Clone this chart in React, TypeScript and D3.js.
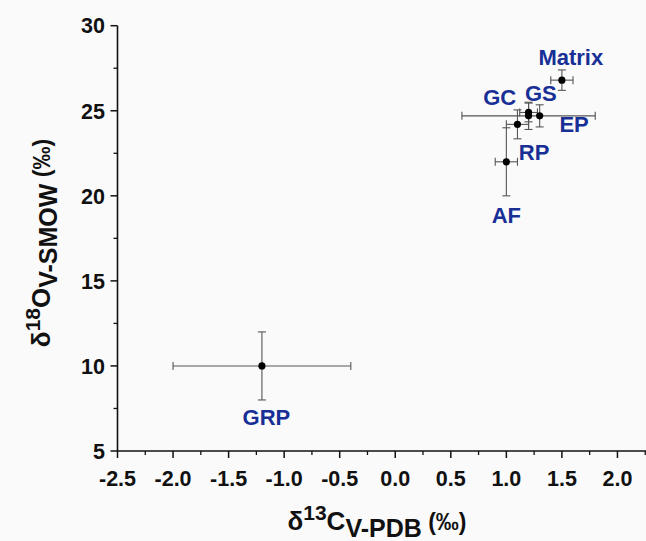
import React from "react";
import * as d3 from "d3";

const names = ["Matrix", "GS", "GC", "EP", "RP", "AF", "GRP"];
const xVals = [1.5, 1.2, 1.2, 1.3, 1.1, 1.0, -1.2];
const yVals = [26.8, 24.9, 24.7, 24.7, 24.2, 22.0, 10.0];
const xErrs = [0.1, 0.08, 0.6, 0, 0.1, 0.1, 0.8];
const yErrs = [0.6, 0.55, 0.8, 0.65, 0.85, 2.0, 2.0];
// label offsets in data units (dx, dy) relative to point
const labelDx = [0.08, 0.11, -0.26, 0.31, 0.15, 0.0, 0.04];
const labelDy = [0.9, 0.66, 0.62, -0.94, -2.1, -3.6, -3.48];

const xMajor = [-2.5, -2.0, -1.5, -1.0, -0.5, 0.0, 0.5, 1.0, 1.5, 2.0];
const yMajor = [5, 10, 15, 20, 25, 30];

const W = 646;
const H = 541;
const FONT = "'Liberation Sans', Arial, Helvetica, sans-serif";
const LABEL_COLOR = "#182f96";

export default function App() {
  const x = d3.scaleLinear().domain([-2.5, 2.5]).range([117.5, 673]);
  const y = d3.scaleLinear().domain([5, 30]).range([451, 25.7]);
  const x0 = x(-2.5);
  const y0 = y(5);

  const xMinor = d3.range(-2.25, 2.5, 0.5);
  const yMinor = d3.range(7.5, 30, 5);
  const cap = 4;

  return (
    <svg
      width={W}
      height={H}
      style={{ position: "absolute", left: 0, top: 0, fontFamily: FONT }}
    >
      <rect x={0} y={0} width={W} height={H} fill="#fafafa" />
      {/* axes */}
      <line x1={x0} x2={W} y1={y0} y2={y0} stroke="#111" strokeWidth={1.6} />
      <line x1={x0} x2={x0} y1={y(30)} y2={y0} stroke="#111" strokeWidth={1.6} />
      {xMajor.map((v) => (
        <g key={"xm" + v}>
          <line x1={x(v)} x2={x(v)} y1={y0} y2={y0 + 7} stroke="#111" strokeWidth={1.5} />
          <text
            x={x(v)}
            y={486}
            textAnchor="middle"
            fontSize={21.5}
            fontWeight="bold"
            fill="#111"
          >
            {v.toFixed(1)}
          </text>
        </g>
      ))}
      {xMinor.map((v) => (
        <line key={"xn" + v} x1={x(v)} x2={x(v)} y1={y0} y2={y0 + 4} stroke="#111" strokeWidth={1.3} />
      ))}
      {yMajor.map((v) => (
        <g key={"ym" + v}>
          <line x1={x0 - 7} x2={x0} y1={y(v)} y2={y(v)} stroke="#111" strokeWidth={1.5} />
          <text
            x={105}
            y={y(v)}
            dy="0.36em"
            textAnchor="end"
            fontSize={21.5}
            fontWeight="bold"
            fill="#111"
          >
            {v}
          </text>
        </g>
      ))}
      {yMinor.map((v) => (
        <line key={"yn" + v} x1={x0 - 4} x2={x0} y1={y(v)} y2={y(v)} stroke="#111" strokeWidth={1.3} />
      ))}

      {/* error bars */}
      {names.map((n, i) => {
        const cx = x(xVals[i]);
        const cy = y(yVals[i]);
        const xl = x(xVals[i] - xErrs[i]);
        const xr = x(xVals[i] + xErrs[i]);
        const yt = y(yVals[i] + yErrs[i]);
        const yb = y(yVals[i] - yErrs[i]);
        return (
          <g key={"e" + n} stroke="#555" strokeWidth={1.1}>
            {xErrs[i] > 0 && (
              <>
                <line x1={xl} x2={xr} y1={cy} y2={cy} />
                <line x1={xl} x2={xl} y1={cy - cap} y2={cy + cap} />
                <line x1={xr} x2={xr} y1={cy - cap} y2={cy + cap} />
              </>
            )}
            {yErrs[i] > 0 && (
              <>
                <line x1={cx} x2={cx} y1={yt} y2={yb} />
                <line x1={cx - cap} x2={cx + cap} y1={yt} y2={yt} />
                <line x1={cx - cap} x2={cx + cap} y1={yb} y2={yb} />
              </>
            )}
          </g>
        );
      })}
      {names.map((n, i) => (
        <circle key={"p" + n} cx={x(xVals[i])} cy={y(yVals[i])} r={3.6} fill="#000" />
      ))}
      {names.map((n, i) => (
        <text
          key={"l" + n}
          x={x(xVals[i] + labelDx[i])}
          y={y(yVals[i] + labelDy[i])}
          textAnchor="middle"
          fontSize={22}
          fontWeight="bold"
          fill={LABEL_COLOR}
        >
          {n}
        </text>
      ))}

      {/* x title */}
      <text x={377} y={530} textAnchor="middle" fontWeight="bold" fill="#111" fontSize={26}>
        <tspan>δ</tspan>
        <tspan fontSize={21} dy={-10}>13</tspan>
        <tspan fontSize={26} dy={10}>C</tspan>
        <tspan fontSize={25} dy={7}>V-PDB</tspan>
        <tspan fontSize={23} dy={-7}> (‰)</tspan>
      </text>
      {/* y title */}
      <text
        transform={`translate(50,243) rotate(-90)`}
        textAnchor="middle"
        fontWeight="bold"
        fill="#111"
        fontSize={26}
      >
        <tspan>δ</tspan>
        <tspan fontSize={21} dy={-10}>18</tspan>
        <tspan fontSize={26} dy={10}>O</tspan>
        <tspan fontSize={25} dy={7}>V-SMOW</tspan>
        <tspan fontSize={23} dy={-7}> (‰)</tspan>
      </text>
    </svg>
  );
}
